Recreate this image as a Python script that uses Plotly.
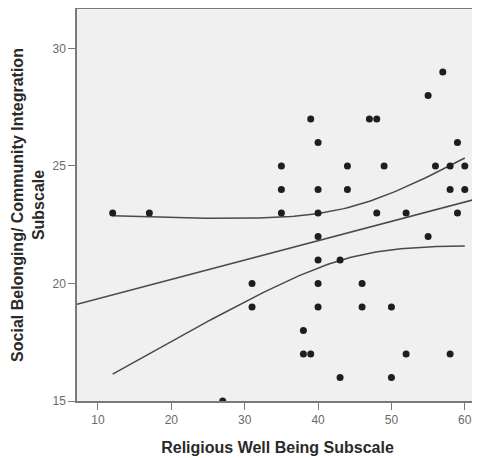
import numpy as np
import plotly.graph_objects as go

religious = [12, 17, 27, 31, 31, 35, 35, 35, 38, 38, 39, 39,
             40, 40, 40, 40, 40, 40, 40, 43, 43, 44, 44, 46, 46,
             47, 48, 48, 49, 50, 50, 52, 52, 55, 55, 56, 57,
             58, 58, 58, 59, 59, 60, 60]
social = [23, 23, 15, 20, 19, 25, 24, 23, 18, 17, 17, 27,
          26, 24, 23, 22, 21, 20, 19, 21, 16, 25, 24, 20, 19,
          27, 27, 23, 25, 19, 16, 23, 17, 28, 22, 25, 29,
          25, 24, 17, 26, 23, 25, 24]
x_ticks = [10, 20, 30, 40, 50, 60]
y_ticks = [15, 20, 25, 30]
x_range = [7.14, 61.8]
y_range = [15, 31.68]

x = np.array(religious, dtype=float)
y = np.array(social, dtype=float)
n = len(x)
mx, my = x.mean(), y.mean()
sxx = ((x - mx) ** 2).sum()
sxy = ((x - mx) * (y - my)).sum()
b1 = sxy / sxx
b0 = my - b1 * mx
resid = y - (b0 + b1 * x)
s = np.sqrt((resid ** 2).sum() / (n - 2))
t_crit = 2.018  # t(0.975, df=42)

xl = np.linspace(x_range[0], x_range[1], 50)
yl = b0 + b1 * xl
xc = np.linspace(x.min(), x.max(), 100)
yc = b0 + b1 * xc
hw = t_crit * s * np.sqrt(1.0 / n + (xc - mx) ** 2 / sxx)

line_style = dict(color="#4a4a4a", width=1.5)
fig = go.Figure()
fig.add_trace(go.Scatter(x=xl, y=yl, mode="lines", line=line_style, hoverinfo="skip"))
fig.add_trace(go.Scatter(x=xc, y=yc + hw, mode="lines", line=line_style, hoverinfo="skip"))
fig.add_trace(go.Scatter(x=xc, y=yc - hw, mode="lines", line=line_style, hoverinfo="skip"))
fig.add_trace(go.Scatter(x=religious, y=social, mode="markers",
                         marker=dict(color="#1e1e1e", size=7, line=dict(width=0))))

axis_common = dict(showgrid=False, zeroline=False, showline=True, linecolor="#7a7a7a",
                   linewidth=1.5, mirror=True, ticks="outside", ticklen=7,
                   tickcolor="#7a7a7a", tickwidth=1.2, automargin=False,
                   tickfont=dict(family="Liberation Sans, Arial", size=12, color="#6a6a6a"))

# page body adds an 8px offset, so the figure is sized to fit the remaining window
fig.update_layout(
    width=472, height=450,
    margin=dict(l=69, r=2, t=1, b=57),
    paper_bgcolor="white", plot_bgcolor="#f0f0f0",
    showlegend=False,
    xaxis=dict(range=x_range, tickvals=x_ticks, **axis_common,
               title=dict(text="<b>Religious Well Being Subscale</b>", standoff=16,
                          font=dict(family="Liberation Sans, Arial", size=16, color="#2a2a2a"))),
    yaxis=dict(range=y_range, tickvals=y_ticks, **axis_common,
               title=dict(text="<b>Social Belonging/ Community Integration<br>Subscale</b>", standoff=4,
                          font=dict(family="Liberation Sans, Arial", size=16, color="#2a2a2a"))),
)
fig.write_html("out.html")
